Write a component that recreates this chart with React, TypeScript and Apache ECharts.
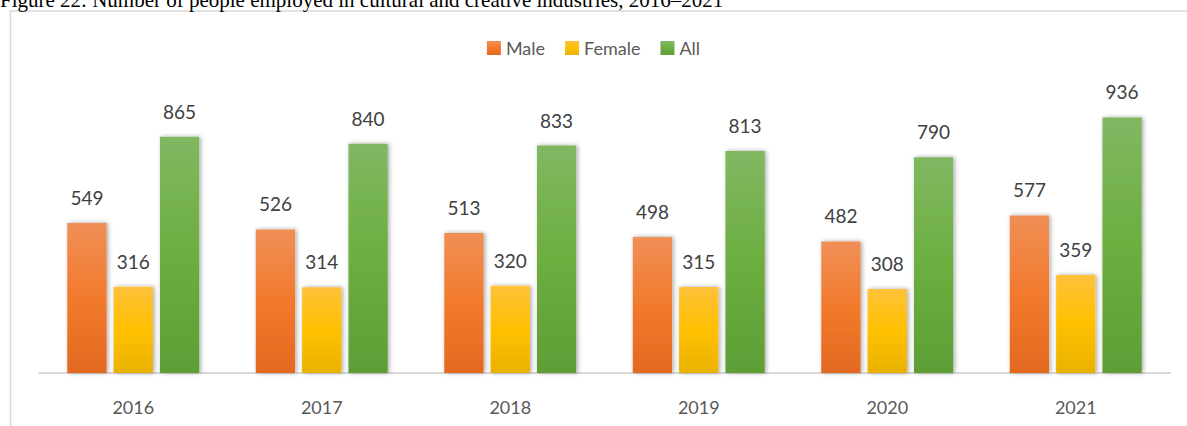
import React, { useEffect, useRef } from "react";
import * as echarts from "echarts";

const years = ["2016", "2017", "2018", "2019", "2020", "2021"];
const male = [549, 526, 513, 498, 482, 577];
const female = [316, 314, 320, 315, 308, 359];
const all = [865, 840, 833, 813, 790, 936];
const seriesNames = ["Male", "Female", "All"];
const titleText = "Figure 22: Number of people employed in cultural and creative industries, 2016\u20132021";

const grad = (top: string, mid: string, bottom: string) =>
  new echarts.graphic.LinearGradient(0, 0, 0, 1, [
    { offset: 0, color: top },
    { offset: 0.5, color: mid },
    { offset: 1, color: bottom },
  ]);

export default function App() {
  const ref = useRef<HTMLDivElement>(null);
  useEffect(() => {
    if (!ref.current) return;
    const chart = echarts.init(ref.current, undefined, { renderer: "svg" });
    const font = "Lato, 'Open Sans', sans-serif";
    const mkSeries = (name: string, data: number[], g: any) => ({
      name,
      type: "bar",
      data,
      barGap: "18%",
      barCategoryGap: "30%",
      itemStyle: {
        color: g,
        shadowBlur: 4,
        shadowColor: "rgba(0,0,0,0.35)",
        shadowOffsetX: 1.5,
        shadowOffsetY: 0,
      },
      label: {
        show: true,
        position: "top",
        distance: 16,
        color: "#404040",
        fontSize: 19,
        fontFamily: font,
      },
    });
    chart.setOption({
      animation: false,
      backgroundColor: "#ffffff",
      legend: {
        data: seriesNames,
        top: 34,
        left: "center",
        itemWidth: 14,
        itemHeight: 14,
        itemGap: 20,
        icon: "rect",
        textStyle: { color: "#595959", fontSize: 18, fontFamily: font },
      },
      grid: { left: 39, right: 17, top: 100, bottom: 53 },
      xAxis: {
        type: "category",
        data: years,
        axisLine: { lineStyle: { color: "#d9d9d9", width: 2 } },
        axisTick: { show: false },
        axisLabel: { color: "#595959", fontSize: 18, fontFamily: font, margin: 25 },
      },
      yAxis: {
        type: "value",
        min: 0,
        max: 1000,
        show: false,
        splitLine: { show: false },
      },
      graphic: [
        {
          type: "rect",
          shape: { x: 10.5, y: 11, width: 1300, height: 600 },
          style: { fill: "none", stroke: "#d9d9d9", lineWidth: 1.5 },
          silent: true,
        },
        {
          type: "text",
          x: 0,
          y: 10,
          style: {
            text: titleText,
            font: "21px 'Liberation Serif', serif",
            fill: "#000000",
            textVerticalAlign: "bottom",
            verticalAlign: "bottom",
          },
        },
      ],
      series: [
        mkSeries("Male", male, grad("#F08F57", "#F27A2C", "#E2691F")),
        mkSeries("Female", female, grad("#FFC23A", "#FFC000", "#E9B100")),
        mkSeries("All", all, grad("#80B862", "#6CAE40", "#5E9E36")),
      ],
    });
    return () => chart.dispose();
  }, []);
  return (
    <div
      ref={ref}
      style={{ position: "absolute", left: 0, top: 0, width: 1187, height: 426 }}
    />
  );
}
